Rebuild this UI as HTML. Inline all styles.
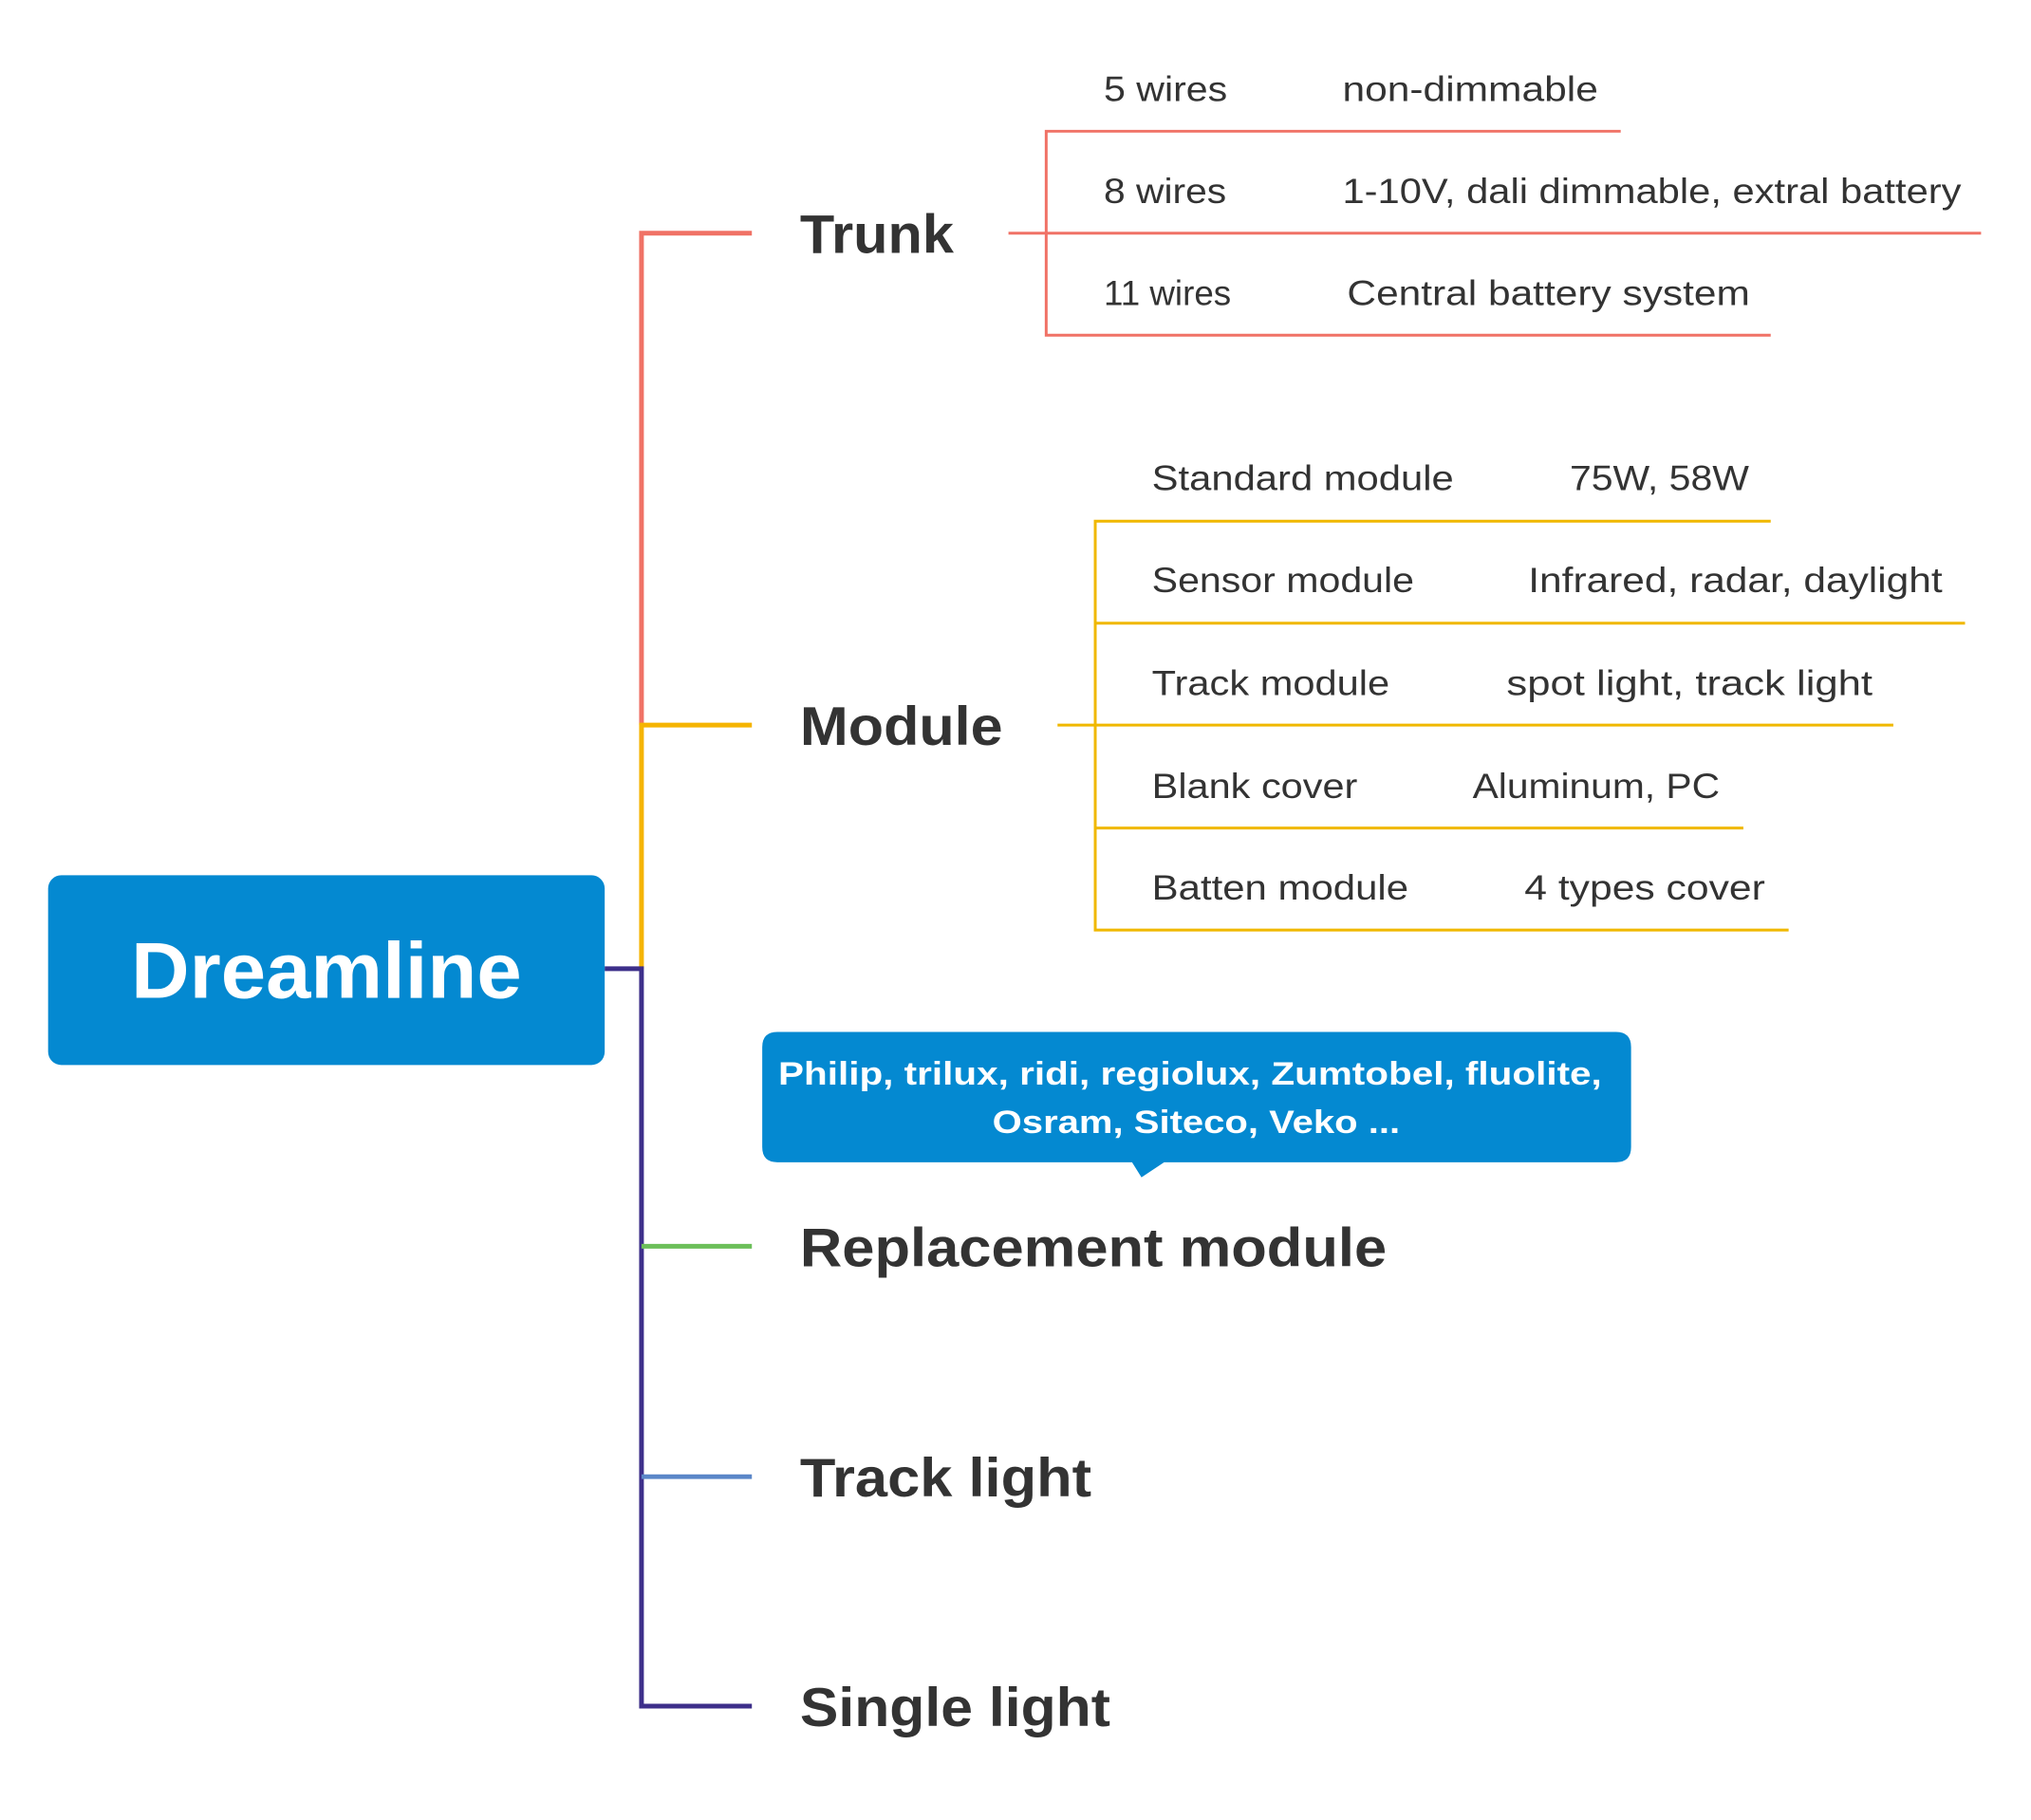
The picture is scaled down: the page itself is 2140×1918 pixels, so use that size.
<!DOCTYPE html>
<html><head><meta charset="utf-8"><style>html,body{margin:0;padding:0;background:#fff}svg{display:block}</style></head>
<body>
<svg width="2140" height="1918" viewBox="0 0 2140 1918" xmlns="http://www.w3.org/2000/svg" font-family="Liberation Sans, sans-serif">
<g transform="scale(0.994 0.995)">
<g fill="none" stroke-width="5">
<path d="M797 247 H680 V768" stroke="#f07266"/>
<path d="M797 768 H680 V1026" stroke="#f5b400"/>
<path d="M641 1026 H680 V1807 H797" stroke="#3d2f8a"/>
<path d="M680 1320 H797" stroke="#6cbf5a"/>
<path d="M680 1564 H797" stroke="#5b87c8"/>
</g>
<g fill="none" stroke="#f07266" stroke-width="3">
<path d="M1718 139 H1109 V355 H1877"/>
<path d="M1069 247 H2100"/>
</g>
<g fill="none" stroke="#f0b800" stroke-width="3">
<path d="M1877 552 H1161 V985 H1896"/>
<path d="M1161 660 H2083"/>
<path d="M1121 768 H2007"/>
<path d="M1161 877 H1848"/>
</g>
<rect x="51" y="927" width="590" height="201" rx="14" fill="#0489d1"/>
<text x="139" y="1057" font-size="84" font-weight="bold" fill="#fff" textLength="414" lengthAdjust="spacingAndGlyphs">Dreamline</text>
<path d="M824 1093 H1713 Q1729 1093 1729 1109 V1215 Q1729 1231 1713 1231 H1234 L1210 1247 L1200 1231 H824 Q808 1231 808 1215 V1109 Q808 1093 824 1093 Z" fill="#0489d1"/>
<g font-size="34" font-weight="bold" fill="#fff">
<text x="825" y="1149" textLength="873" lengthAdjust="spacingAndGlyphs">Philip, trilux, ridi, regiolux, Zumtobel, fluolite,</text>
<text x="1052" y="1200" textLength="432" lengthAdjust="spacingAndGlyphs">Osram, Siteco, Veko ...</text>
</g>
<g font-size="58" font-weight="bold" fill="#333">
<text x="848" y="268" textLength="163" lengthAdjust="spacingAndGlyphs">Trunk</text>
<text x="848" y="789" textLength="215" lengthAdjust="spacingAndGlyphs">Module</text>
<text x="848" y="1341" textLength="622" lengthAdjust="spacingAndGlyphs">Replacement module</text>
<text x="848" y="1585" textLength="309" lengthAdjust="spacingAndGlyphs">Track light</text>
<text x="848" y="1828" textLength="329" lengthAdjust="spacingAndGlyphs">Single light</text>
</g>
<g font-size="37" fill="#333">
<text x="1170" y="107" textLength="131" lengthAdjust="spacingAndGlyphs">5 wires</text>
<text x="1423" y="107" textLength="271" lengthAdjust="spacingAndGlyphs">non-dimmable</text>
<text x="1170" y="215" textLength="130" lengthAdjust="spacingAndGlyphs">8 wires</text>
<text x="1423" y="215" textLength="656" lengthAdjust="spacingAndGlyphs">1-10V, dali dimmable, extral battery</text>
<text x="1170" y="323" textLength="135" lengthAdjust="spacingAndGlyphs">11 wires</text>
<text x="1428" y="323" textLength="427" lengthAdjust="spacingAndGlyphs">Central battery system</text>
<text x="1221" y="519" textLength="320" lengthAdjust="spacingAndGlyphs">Standard module</text>
<text x="1664" y="519" textLength="190" lengthAdjust="spacingAndGlyphs">75W, 58W</text>
<text x="1221" y="627" textLength="278" lengthAdjust="spacingAndGlyphs">Sensor module</text>
<text x="1620" y="627" textLength="439" lengthAdjust="spacingAndGlyphs">Infrared, radar, daylight</text>
<text x="1221" y="736" textLength="252" lengthAdjust="spacingAndGlyphs">Track module</text>
<text x="1597" y="736" textLength="388" lengthAdjust="spacingAndGlyphs">spot light, track light</text>
<text x="1221" y="845" textLength="218" lengthAdjust="spacingAndGlyphs">Blank cover</text>
<text x="1561" y="845" textLength="262" lengthAdjust="spacingAndGlyphs">Aluminum, PC</text>
<text x="1221" y="953" textLength="272" lengthAdjust="spacingAndGlyphs">Batten module</text>
<text x="1616" y="953" textLength="255" lengthAdjust="spacingAndGlyphs">4 types cover</text>
</g>
</g>
</svg>
</body></html>
